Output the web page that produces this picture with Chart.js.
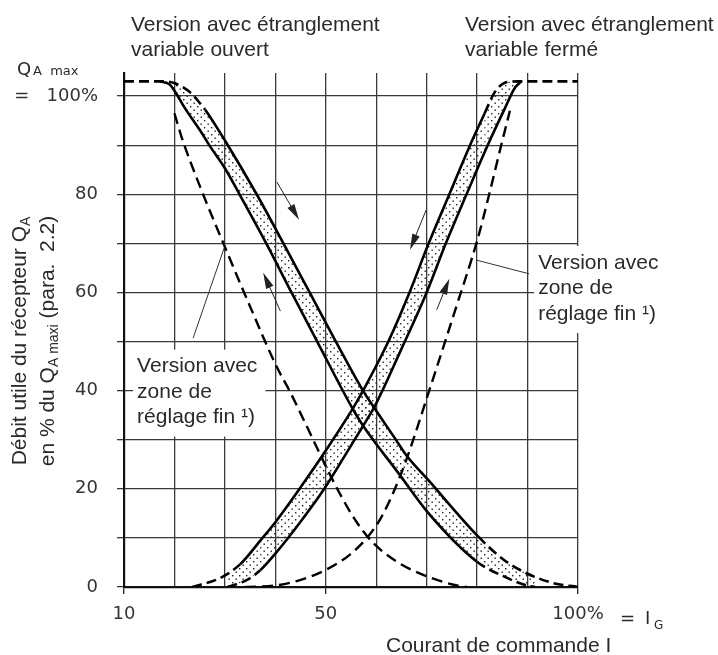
<!DOCTYPE html>
<html lang="fr">
<head>
<meta charset="utf-8">
<title>Débit utile du récepteur</title>
<script src="https://cdn.jsdelivr.net/npm/chart.js@4.4.1/dist/chart.umd.min.js"></script>
<style>
  html, body { margin: 0; padding: 0; background: #fff; }
  canvas { display: block; }
</style>
</head>
<body>
<canvas id="chart" width="718" height="655"></canvas>
<script>
const ouvertExt = [[10, 103], [18, 103], [20.1, 102.6], [23.4, 100.5], [25.1, 98.5], [26.1, 97.2], [30.1, 90.8],
    [36.3, 80], [41.6, 70], [46.8, 60], [52, 50], [57.5, 39.8], [59.8, 36.2],
    [63.5, 30.6], [66, 26.8], [70.3, 21.8], [80.2, 10.3], [85.2, 5.6], [89.8, 2.8], [95.1, 0.8], [100, 0]];
const ouvertInt = [[17, 103], [19, 102.4], [20, 101.1], [22.1, 97.5], [25.1, 93], [26.9, 90], [30, 85.3],
    [32.9, 80], [38.2, 70], [43.2, 60], [48.3, 50], [55.5, 36], [57.5, 32.7], [64.4, 23.2], [70.3, 15.1],
    [79.9, 5.2], [85.2, 2.2], [89.8, 0.3], [91.5, 0]];
const ouvertFin = [[20, 96.5], [21.4, 91.7], [25.1, 81.5], [29.7, 70], [35.3, 56.4], [40.2, 45], [42.9, 39.8],
    [47.5, 30], [50.2, 24.2], [53, 18.6], [56, 13.4], [59, 9.4], [64, 5.2], [70.5, 2], [76, 0.3], [78, 0]];

const fermeExt = [[23.5, 0], [29, 1.8], [33, 4.6], [37.3, 9.8], [40, 13.2], [45, 20.3], [50, 27.8], [55.5, 36.6],
    [57.5, 40.2], [62.4, 50], [66.6, 60], [70.4, 70], [74.5, 80], [78.6, 90], [81.5, 96.5],
    [83.5, 100.8], [85.5, 102.7], [88, 103], [100, 103]];
const fermeInt = [[30.5, 0], [34.3, 1.4], [37, 3.4], [40, 6.8], [45, 13.3], [49.7, 20], [55, 28.8], [57.5, 33],
    [59.8, 37], [65, 48.5], [70, 60], [73.8, 70], [77.9, 80], [82.1, 90], [85.5, 97.5], [87.5, 101.7], [88.8, 103]];
const fermeFin = [[34, 0], [40, 0.3], [45.5, 1.6], [50.2, 3.6], [54.8, 6.6], [58.4, 10.3], [61, 14.2],
    [63.5, 19.5], [66, 26], [70.5, 40], [76, 57.5], [80, 70.5], [82.4, 80], [84.9, 90.5], [86.5, 97]];

const renvoiGauche = [[30, 69.5], [23.7, 50.7]];
const renvoiDroite = [[79.8, 66.6], [90.3, 63.8]];
const flecheDepart = [[40.3, 82.5], [41, 56.2], [69.9, 76.8], [72, 56.5]];
const flecheArrivee = [[44.7, 74.8], [37.6, 64], [66.7, 68.7], [74.5, 62.8]];

const xTicks = [10, 50, 100];
const xTickLabels = ['10', '50', '100%'];
const yTicks = [0, 20, 40, 60, 80, 100];
const yTickLabels = ['0', '20', '40', '60', '80', '=   100%'];

const FONT = '"Liberation Sans", Arial, Helvetica, sans-serif';
const FONT_AXE = '"DejaVu Sans", sans-serif';
const ENCRE = '#2a2a2a';
const tirets = [10, 5];

const pts = arr => arr.map(([x, y]) => ({ x, y }));

// tirets seulement aux extrémités de la courbe
const pointille = (avant, apres) => ctx =>
    (ctx.p1.parsed.x <= avant || ctx.p0.parsed.x >= apres) ? tirets : undefined;

function motifPoints() {
    const c = document.createElement('canvas');
    c.width = 7;
    c.height = 7;
    const g = c.getContext('2d');
    g.fillStyle = '#222';
    g.fillRect(1, 1, 1.4, 1.4);
    g.fillRect(4.5, 4.5, 1.4, 1.4);
    return g.createPattern(c, 'repeat');
}
const motif = motifPoints();

function courbe(data, extra) {
    return Object.assign({
        data: pts(data),
        borderColor: '#000',
        borderWidth: 2.6,
        pointRadius: 0,
        fill: false,
        cubicInterpolationMode: 'monotone'
    }, extra);
}

// texte avec indices : [texte, indice?]
function morceaux(ctx, runs, x, y, taille, tailleIndice, decal) {
    let cx = x;
    runs.forEach(([t, sub]) => {
        ctx.font = (sub ? tailleIndice : taille) + 'px ' + FONT;
        ctx.fillText(t, cx, y + (sub ? decal : 0));
        cx += ctx.measureText(t).width;
    });
    return cx - x;
}
function largeur(ctx, runs, taille, tailleIndice) {
    let w = 0;
    runs.forEach(([t, sub]) => {
        ctx.font = (sub ? tailleIndice : taille) + 'px ' + FONT;
        w += ctx.measureText(t).width;
    });
    return w;
}

const etiquettes = [
    { lignes: ['Version avec', 'zone de', 'réglage fin ¹)'], at: [12.6, 44.9] },
    { lignes: ['Version avec', 'zone de', 'réglage fin ¹)'], at: [92.1, 66] }
];

const annotations = {
    id: 'annotations',
    afterDatasetsDraw(chart) {
        const { ctx } = chart;
        const sx = chart.scales.x, sy = chart.scales.y;
        ctx.save();
        ctx.strokeStyle = '#222';
        ctx.fillStyle = '#222';
        ctx.lineWidth = 1;
        flecheDepart.forEach((p, i) => {
            const q = flecheArrivee[i];
            const x0 = sx.getPixelForValue(p[0]), y0 = sy.getPixelForValue(p[1]);
            const x1 = sx.getPixelForValue(q[0]), y1 = sy.getPixelForValue(q[1]);
            const a = Math.atan2(y1 - y0, x1 - x0);
            const c = Math.cos(a), s = Math.sin(a);
            ctx.beginPath();
            ctx.moveTo(x0, y0);
            ctx.lineTo(x1 - 10 * c, y1 - 10 * s);
            ctx.stroke();
            ctx.beginPath();
            ctx.moveTo(x1, y1);
            ctx.lineTo(x1 - 16 * c + 4 * s, y1 - 16 * s - 4 * c);
            ctx.lineTo(x1 - 16 * c - 4 * s, y1 - 16 * s + 4 * c);
            ctx.closePath();
            ctx.fill();
        });
        ctx.restore();
    },
    afterDraw(chart) {
        const { ctx } = chart;
        const sx = chart.scales.x, sy = chart.scales.y;
        ctx.save();
        ctx.textBaseline = 'middle';
        ctx.textAlign = 'left';

        // étiquettes sur fond blanc
        ctx.font = '21px ' + FONT;
        etiquettes.forEach(e => {
            const x = sx.getPixelForValue(e.at[0]);
            const y = sy.getPixelForValue(e.at[1]);
            const w = Math.max(...e.lignes.map(l => ctx.measureText(l).width));
            const h = (e.lignes.length - 1) * 25.5;
            ctx.fillStyle = '#fff';
            ctx.fillRect(x - 4, y - 17, w + 12, h + 36);
            ctx.fillStyle = ENCRE;
            e.lignes.forEach((l, i) => ctx.fillText(l, x, y + i * 25.5));
        });

        // titres du haut
        ctx.fillText('Version avec étranglement', 131, 25);
        ctx.fillText('variable ouvert', 131, 50);
        ctx.fillText('Version avec étranglement', 465, 25);
        ctx.fillText('variable fermé', 465, 50);

        // titre de l'axe x
        ctx.fillText('Courant de commande I', 386, 646);

        // Q_A max et = I_G
        ctx.textBaseline = 'alphabetic';
        ctx.font = '18px ' + FONT_AXE;
        ctx.fillText('Q', 17, 75);
        ctx.font = '13px ' + FONT_AXE;
        ctx.fillText('A  max', 33, 75);
        ctx.font = '18px ' + FONT_AXE;
        const yb = 624;
        ctx.fillText('=', 620, yb);
        ctx.fillText('I', 645, yb);
        ctx.font = '12px ' + FONT_AXE;
        ctx.fillText('G', 654, yb + 5);

        // titre de l'axe y, deux lignes pivotées
        ctx.textBaseline = 'middle';
        const lignesY = [
            { runs: [['Débit utile du récepteur Q'], ['A', true]], x: 20 },
            { runs: [['en % du Q'], ['A maxi', true], [' (para.  2.2)']], x: 48 }
        ];
        lignesY.forEach(l => {
            const w = largeur(ctx, l.runs, 21, 14);
            ctx.save();
            ctx.translate(l.x, 341);
            ctx.rotate(-Math.PI / 2);
            morceaux(ctx, l.runs, -w / 2, 0, 21, 14, 6);
            ctx.restore();
        });
        ctx.restore();
    }
};

new Chart(document.getElementById('chart'), {
    type: 'line',
    data: {
        datasets: [
            courbe(ouvertExt, { fill: 1, backgroundColor: motif, segment: { borderDash: pointille(26.1, 80.2) } }),
            courbe(ouvertInt, { segment: { borderDash: pointille(-1, 79.9) } }),
            courbe(ouvertFin, { borderDash: [11, 6], borderWidth: 2.4 }),
            courbe(fermeExt, { fill: 4, backgroundColor: motif, segment: { borderDash: pointille(33, 81.5) } }),
            courbe(fermeInt, { segment: { borderDash: pointille(37, 200) } }),
            courbe(fermeFin, { borderDash: [11, 6], borderWidth: 2.4 }),
            courbe(renvoiGauche, { borderWidth: 1, borderColor: '#333', cubicInterpolationMode: 'default' }),
            courbe(renvoiDroite, { borderWidth: 1, borderColor: '#333', cubicInterpolationMode: 'default' })
        ]
    },
    options: {
        responsive: false,
        animation: false,
        layout: { padding: { left: 0, top: 73, right: 140, bottom: 0 } },
        plugins: {
            legend: { display: false },
            tooltip: { enabled: false },
            title: { display: false }
        },
        scales: {
            x: {
                type: 'linear',
                min: 10,
                max: 100,
                afterFit: s => { s.height = 68; },
                border: { display: true, color: '#111', width: 2.2 },
                grid: {
                    color: '#3a3a3a',
                    lineWidth: 1.3,
                    tickLength: 7,
                    tickColor: c => (c.tick && xTicks.includes(c.tick.value)) ? '#222' : 'rgba(0,0,0,0)'
                },
                ticks: {
                    stepSize: 10,
                    autoSkip: false,
                    maxRotation: 0,
                    padding: 10,
                    color: '#333',
                    font: { family: FONT_AXE, size: 18 },
                    callback: v => {
                        const i = xTicks.indexOf(v);
                        return i >= 0 ? xTickLabels[i] : '';
                    }
                }
            },
            y: {
                min: 0,
                max: 104.7,
                afterFit: s => { s.width = 124; },
                border: { display: true, color: '#111', width: 2.2 },
                grid: {
                    color: '#3a3a3a',
                    lineWidth: 1.3,
                    tickLength: 7,
                    tickColor: '#3a3a3a'
                },
                ticks: {
                    stepSize: 10,
                    includeBounds: false,
                    autoSkip: false,
                    padding: 19,
                    color: '#333',
                    font: { family: FONT_AXE, size: 18 },
                    callback: v => {
                        const i = yTicks.indexOf(v);
                        return i >= 0 ? yTickLabels[i] : '';
                    }
                }
            }
        }
    },
    plugins: [annotations]
});
</script>
</body>
</html>
